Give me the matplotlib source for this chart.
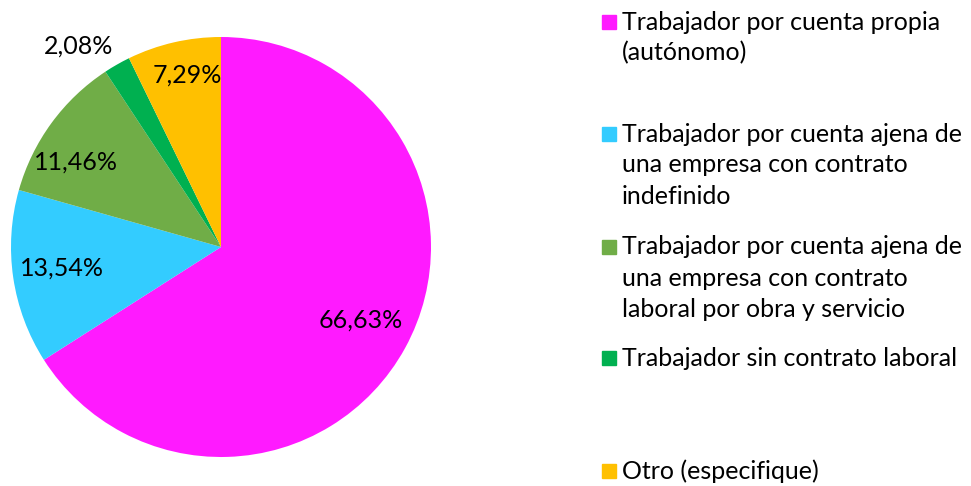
import numpy as np
import matplotlib.pyplot as plt
from matplotlib.patches import Rectangle

# datos (porcentajes)
categorias = [
    "Trabajador por cuenta propia\n(autónomo)",
    "Trabajador por cuenta ajena de\nuna empresa con contrato\nindefinido",
    "Trabajador por cuenta ajena de\nuna empresa con contrato\nlaboral por obra y servicio",
    "Trabajador sin contrato laboral",
    "Otro (especifique)",
]
valores = [66.63, 13.54, 11.46, 2.08, 7.29]
colores = ["#FF1AFF", "#33CCFF", "#70AD47", "#00B050", "#FFC000"]

plt.rcParams['font.family'] = ['Lato', 'DejaVu Sans']

W, H = 971, 486
fig = plt.figure(figsize=(W / 100, H / 100), dpi=100)
ax = fig.add_axes([11 / W, 29 / H, 420 / W, 420 / H])

wedges, textos = ax.pie(valores, colors=colores, startangle=90, counterclock=False,
                        radius=1, wedgeprops=dict(linewidth=0))
ax.set_xlim(-1, 1)
ax.set_ylim(-1, 1)
ax.set_aspect("equal")
ax.axis("off")

# etiquetas de porcentaje (distancia radial y desplazamiento angular a ojo)
dist = [0.75, 0.765, 0.80, 1.175, 0.835]
desv = [2.2, 1.8, 9.0, 9.0, 1.7]
acum = 0
for v, r, d in zip(valores, dist, desv):
    mid = 90 - (acum + v / 2) * 3.6 + d
    acum += v
    x, y = r * np.cos(np.radians(mid)), r * np.sin(np.radians(mid))
    ax.text(x, y, f"{v:.2f}%".replace(".", ","), ha="center", va="center",
            fontsize=18, color="black")

# leyenda manual (centro vertical de la primera línea de cada entrada, en px)
ys = [22, 134, 247, 358, 471]
paso = 31
for c, t, y in zip(colores, categorias, ys):
    fig.patches.append(Rectangle((602 / W, 1 - (y + 7) / H), 14 / W, 14 / H,
                                 transform=fig.transFigure, color=c))
    for k, linea in enumerate(t.split("\n")):
        fig.text(622 / W, 1 - (y + k * paso) / H, linea, ha="left",
                 va="center", fontsize=18)

plt.savefig("out.png", dpi=100)
